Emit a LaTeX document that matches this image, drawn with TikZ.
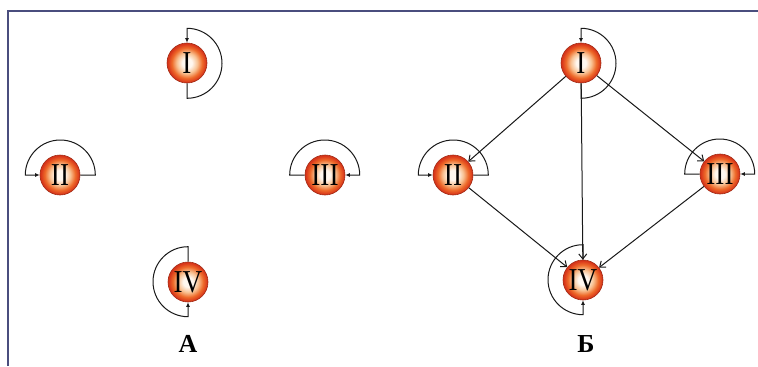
\documentclass[tikz,border=0pt]{standalone}
\usepackage{fontspec}
\setmainfont{Liberation Serif}
\usetikzlibrary{arrows.meta}
\definecolor{frameblue}{HTML}{4A4E7E}
\definecolor{ballc0}{HTML}{FFF8F0}
\definecolor{ballc1}{HTML}{F8C090}
\definecolor{ballc2}{HTML}{EE6A2A}
\definecolor{ballc3}{HTML}{D8361A}
\definecolor{ballrim}{HTML}{A02A14}
\pgfdeclareradialshading{ballshade}{\pgfpoint{0bp}{0bp}}{%
  color(0bp)=(ballc0); color(6bp)=(ballc0); color(13bp)=(ballc1); color(19bp)=(ballc2);
  color(24bp)=(ballc3); color(50bp)=(ballc3)}
\tikzset{
  ball/.style={circle, minimum size=40bp, inner sep=0pt, shading=ballshade,
    draw=ballrim, line width=0.6bp,
    font=\fontsize{32}{32}\selectfont},
  loopline/.style={draw=black!90, line width=1bp, -{Latex[length=4.5bp,width=4bp]}},
  edge/.style={draw=black!90, line width=1bp, -{Straight Barb[length=5bp,width=8bp]}},
  caption/.style={font=\fontsize{26}{26}\selectfont\bfseries}
}
\begin{document}
\begin{tikzpicture}[x=1bp,y=1bp]
\useasboundingbox (0,0) rectangle (758,366);
\fill[white] (0,0) rectangle (758,366);
\draw[frameblue, line width=2bp] (8,0) -- (8,355) -- (758,355);

% Part A
\node[ball] (aI)   at (187,303) {\scalebox{0.85}[1]{I}};
\node[ball] (aII)  at (60,191)  {\scalebox{0.85}[1]{II}};
\node[ball] (aIII) at (325,191) {\scalebox{0.85}[1]{III}};
\node[ball] (aIV)  at (188,84)  {\scalebox{0.85}[1]{IV}};

\draw[loopline] (aI.south) -- ++(0,-15) arc[start angle=-90,end angle=90,radius=35] -- (aI.north);
\draw[loopline] (aII.east) -- ++(15,0) arc[start angle=0,end angle=180,radius=35] -- (aII.west);
\draw[loopline] (aIII.west) -- ++(-15,0) arc[start angle=180,end angle=0,radius=35] -- (aIII.east);
\draw[loopline] (aIV.north) -- ++(0,15) arc[start angle=90,end angle=270,radius=35] -- (aIV.south);

\node[caption] (capA) at (188,22) {А};

% Part B
\node[ball] (bI)   at (581,303) {\scalebox{0.85}[1]{I}};
\node[ball] (bII)  at (453,191) {\scalebox{0.85}[1]{II}};
\node[ball] (bIII) at (720,192) {\scalebox{0.85}[1]{III}};
\node[ball] (bIV)  at (583,86)  {\scalebox{0.85}[1]{IV}};

\draw[loopline] (bI.south) -- ++(0,-15) arc[start angle=-90,end angle=90,radius=35] -- (bI.north);
\draw[loopline] (bII.east) -- ++(15,0) arc[start angle=0,end angle=180,radius=35] -- (bII.west);
\draw[loopline] (bIII.west) -- ++(-15,0) arc[start angle=180,end angle=0,radius=35] -- (bIII.east);
\draw[loopline] (bIV.north) -- ++(0,15) arc[start angle=90,end angle=270,radius=35] -- (bIV.south);

\draw[edge] (bI) -- (bII);
\draw[edge] (bI) -- (bIII);
\draw[edge] (bI) -- (bIV);
\draw[edge] (bII) -- (bIV);
\draw[edge] (bIII) -- (bIV);

\node[caption] (capB) at (586,22) {Б};
\end{tikzpicture}
\end{document}
